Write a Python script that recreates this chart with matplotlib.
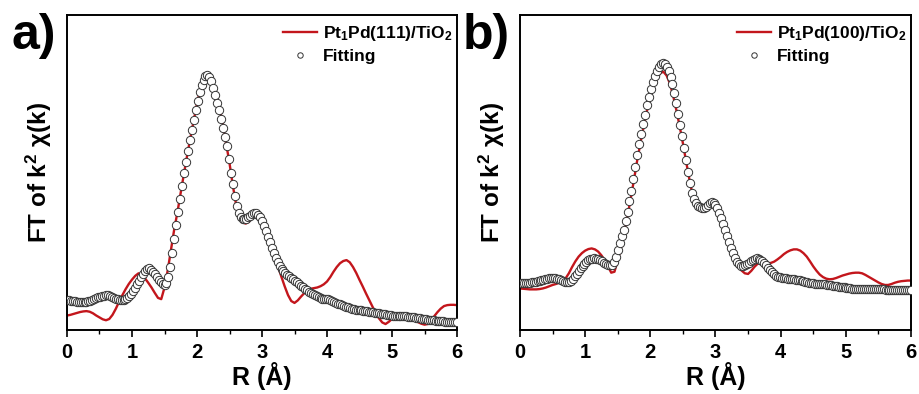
import numpy as np
import matplotlib
matplotlib.use("Agg")
import matplotlib.pyplot as plt

plt.rcParams["font.family"] = ["Liberation Sans", "DejaVu Sans"]
plt.rcParams["font.weight"] = "bold"
plt.rcParams["mathtext.fontset"] = "custom"
plt.rcParams["mathtext.rm"] = "Liberation Sans:bold"
plt.rcParams["mathtext.it"] = "Liberation Sans:bold"
plt.rcParams["mathtext.bf"] = "Liberation Sans:bold"

# R grids (Å): experiment sampled every 0.05, fit every 0.03
r_exp = np.linspace(0, 6, 121)
r_fit = np.linspace(0, 6, 201)

# Pt1Pd(111)/TiO2, normalised FT magnitude
exp_111 = [
    0.046, 0.048, 0.051, 0.054, 0.057, 0.059, 0.060, 0.058, 0.053, 0.046,
    0.040, 0.034, 0.031, 0.035, 0.048, 0.067, 0.089, 0.110, 0.129, 0.146,
    0.160, 0.172, 0.180, 0.176, 0.164, 0.150, 0.135, 0.118, 0.102, 0.098,
    0.135, 0.190, 0.255, 0.320, 0.375, 0.437, 0.497, 0.556, 0.612, 0.666,
    0.718, 0.763, 0.796, 0.812, 0.803, 0.776, 0.741, 0.700, 0.652, 0.590,
    0.530, 0.460, 0.400, 0.360, 0.342, 0.338, 0.344, 0.357, 0.367, 0.369,
    0.352, 0.326, 0.296, 0.265, 0.232, 0.200, 0.168, 0.138, 0.111, 0.092,
    0.086, 0.094, 0.106, 0.117, 0.126, 0.131, 0.133, 0.135, 0.139, 0.145,
    0.154, 0.168, 0.185, 0.200, 0.212, 0.219, 0.222, 0.215, 0.200, 0.181,
    0.159, 0.138, 0.116, 0.095, 0.074, 0.054, 0.037, 0.024, 0.019, 0.026,
    0.035, 0.040, 0.042, 0.042, 0.041, 0.039, 0.035, 0.030, 0.025, 0.020,
    0.017, 0.019, 0.030, 0.044, 0.057, 0.068, 0.076, 0.079, 0.080, 0.080,
    0.079,
]
fit_111 = [
    0.095, 0.094, 0.093, 0.092, 0.091, 0.090, 0.089, 0.088, 0.088, 0.088,
    0.089, 0.091, 0.093, 0.096, 0.099, 0.102, 0.104, 0.106, 0.108, 0.109,
    0.110, 0.110, 0.108, 0.106, 0.103, 0.100, 0.098, 0.096, 0.095, 0.095,
    0.097, 0.101, 0.107, 0.114, 0.123, 0.134, 0.145, 0.156, 0.168, 0.178,
    0.186, 0.193, 0.196, 0.192, 0.185, 0.177, 0.169, 0.160, 0.152, 0.146,
    0.143, 0.150, 0.168, 0.200, 0.245, 0.288, 0.332, 0.374, 0.416, 0.457,
    0.497, 0.533, 0.569, 0.603, 0.636, 0.668, 0.699, 0.728, 0.755, 0.777,
    0.794, 0.806, 0.810, 0.804, 0.789, 0.767, 0.745, 0.722, 0.697, 0.669,
    0.640, 0.612, 0.584, 0.543, 0.500, 0.462, 0.426, 0.393, 0.370, 0.358,
    0.353, 0.352, 0.354, 0.358, 0.363, 0.367, 0.370, 0.370, 0.366, 0.358,
    0.346, 0.331, 0.314, 0.296, 0.278, 0.261, 0.244, 0.228, 0.215, 0.204,
    0.195, 0.188, 0.182, 0.176, 0.171, 0.166, 0.161, 0.156, 0.151, 0.146,
    0.141, 0.136, 0.131, 0.126, 0.121, 0.117, 0.113, 0.110, 0.107, 0.104,
    0.102, 0.100, 0.099, 0.098, 0.097, 0.095, 0.093, 0.090, 0.087, 0.084,
    0.081, 0.078, 0.076, 0.074, 0.072, 0.070, 0.068, 0.066, 0.065, 0.064,
    0.063, 0.062, 0.061, 0.060, 0.059, 0.058, 0.057, 0.056, 0.055, 0.054,
    0.053, 0.052, 0.051, 0.050, 0.049, 0.048, 0.047, 0.046, 0.045, 0.045,
    0.044, 0.044, 0.043, 0.043, 0.043, 0.042, 0.042, 0.041, 0.040, 0.039,
    0.038, 0.037, 0.036, 0.035, 0.034, 0.033, 0.032, 0.031, 0.031, 0.030,
    0.029, 0.029, 0.028, 0.028, 0.027, 0.027, 0.026, 0.025, 0.025, 0.024,
    0.024,
]

# Pt1Pd(100)/TiO2
exp_100 = [
    0.132, 0.131, 0.130, 0.129, 0.129, 0.129, 0.130, 0.132, 0.135, 0.139,
    0.143, 0.146, 0.150, 0.155, 0.164, 0.180, 0.200, 0.218, 0.233, 0.244,
    0.252, 0.257, 0.259, 0.256, 0.249, 0.237, 0.222, 0.203, 0.182, 0.185,
    0.222, 0.262, 0.310, 0.362, 0.418, 0.478, 0.540, 0.595, 0.648, 0.697,
    0.741, 0.774, 0.799, 0.815, 0.820, 0.808, 0.783, 0.744, 0.698, 0.647,
    0.593, 0.534, 0.478, 0.428, 0.394, 0.380, 0.376, 0.381, 0.392, 0.400,
    0.396, 0.376, 0.349, 0.318, 0.286, 0.254, 0.224, 0.203, 0.189, 0.180,
    0.178, 0.188, 0.201, 0.211, 0.216, 0.215, 0.212, 0.213, 0.217, 0.224,
    0.232, 0.241, 0.248, 0.253, 0.256, 0.256, 0.252, 0.244, 0.233, 0.218,
    0.202, 0.188, 0.176, 0.168, 0.163, 0.161, 0.162, 0.165, 0.169, 0.173,
    0.176, 0.179, 0.181, 0.182, 0.182, 0.180, 0.175, 0.169, 0.163, 0.157,
    0.151, 0.146, 0.143, 0.143, 0.146, 0.150, 0.153, 0.155, 0.156, 0.157,
    0.157,
]
fit_100 = [
    0.148, 0.148, 0.148, 0.149, 0.149, 0.150, 0.151, 0.152, 0.153, 0.155,
    0.156, 0.158, 0.159, 0.161, 0.162, 0.164, 0.165, 0.165, 0.164, 0.163,
    0.162, 0.159, 0.156, 0.154, 0.153, 0.154, 0.157, 0.162, 0.170, 0.179,
    0.188, 0.196, 0.204, 0.211, 0.216, 0.221, 0.225, 0.227, 0.228, 0.227,
    0.225, 0.222, 0.218, 0.214, 0.210, 0.207, 0.205, 0.206, 0.216, 0.233,
    0.255, 0.276, 0.297, 0.318, 0.345, 0.376, 0.408, 0.442, 0.479, 0.518,
    0.555, 0.589, 0.622, 0.654, 0.684, 0.713, 0.740, 0.765, 0.786, 0.805,
    0.821, 0.834, 0.843, 0.847, 0.845, 0.836, 0.822, 0.803, 0.780, 0.751,
    0.720, 0.686, 0.650, 0.615, 0.578, 0.539, 0.501, 0.466, 0.436, 0.415,
    0.402, 0.394, 0.389, 0.387, 0.388, 0.392, 0.398, 0.403, 0.405, 0.403,
    0.397, 0.386, 0.372, 0.355, 0.337, 0.318, 0.298, 0.279, 0.261, 0.244,
    0.229, 0.217, 0.209, 0.204, 0.203, 0.205, 0.209, 0.213, 0.218, 0.223,
    0.227, 0.228, 0.227, 0.223, 0.218, 0.212, 0.205, 0.197, 0.189, 0.183,
    0.178, 0.173, 0.169, 0.167, 0.165, 0.164, 0.164, 0.163, 0.163, 0.162,
    0.161, 0.160, 0.159, 0.158, 0.157, 0.155, 0.153, 0.151, 0.150, 0.149,
    0.148, 0.147, 0.147, 0.146, 0.146, 0.145, 0.145, 0.144, 0.143, 0.142,
    0.141, 0.140, 0.139, 0.138, 0.137, 0.136, 0.135, 0.134, 0.133, 0.132,
    0.131, 0.130, 0.130, 0.129, 0.129, 0.129, 0.130, 0.130, 0.131, 0.131,
    0.131, 0.131, 0.131, 0.130, 0.130, 0.129, 0.129, 0.128, 0.128, 0.128,
    0.128, 0.128, 0.128, 0.128, 0.128, 0.128, 0.127, 0.127, 0.127, 0.127,
    0.127,
]

x_ticks = [0, 1, 2, 3, 4, 5, 6]
sample_names = [r"Pt$_1$Pd(111)/TiO$_2$", r"Pt$_1$Pd(100)/TiO$_2$"]
panel_tags = ["a)", "b)"]

RED = "#c3161c"


def plot_panel(ax, y_exp, y_fit, name):
    ax.plot(r_exp, y_exp, color=RED, lw=1.7, label=name, zorder=2)
    ax.plot(r_fit, y_fit, ls="none", marker="o", ms=6.0, mfc="white",
            mec="#333333", mew=0.7, label="Fitting", zorder=3)
    ax.set_xlim(0, 6)
    ax.set_ylim(0, 1)
    ax.set_xticks(x_ticks)
    ax.set_xticks(np.arange(0.5, 6, 1), minor=True)
    ax.set_yticks([])
    ax.tick_params(axis="x", which="major", direction="out", length=5,
                   width=1.2, labelsize=14.5, pad=4)
    ax.tick_params(axis="x", which="minor", direction="out", length=3, width=1.0)
    for lbl in ax.get_xticklabels():
        lbl.set_fontweight("bold")
    for sp in ax.spines.values():
        sp.set_linewidth(1.4)
    ax.set_xlabel("R (Å)", fontsize=18, fontweight="bold", labelpad=0)
    ax.set_ylabel(r"FT of k$^2$ χ(k)", fontsize=17.5, fontweight="bold", labelpad=9)
    ax.legend(loc="upper right", frameon=False, fontsize=12.5, handlelength=2.0,
              handletextpad=0.3, labelspacing=0.35, markerscale=0.65,
              borderaxespad=0.1, bbox_to_anchor=(1.01, 1.0))


fig = plt.figure(figsize=(9.19, 3.94), dpi=100)
ax_a = fig.add_axes([0.0729, 0.1624, 0.4244, 0.7995])
ax_b = fig.add_axes([0.5658, 0.1624, 0.4255, 0.7995])

plot_panel(ax_a, exp_111, fit_111, sample_names[0])
plot_panel(ax_b, exp_100, fit_100, sample_names[1])

# panel tags in the top-left corners
fig.text(0.012, 0.968, panel_tags[0], fontsize=36, fontweight="bold", va="top")
fig.text(0.504, 0.968, panel_tags[1], fontsize=36, fontweight="bold", va="top")

fig.savefig("out.png", dpi=100, facecolor="white")
